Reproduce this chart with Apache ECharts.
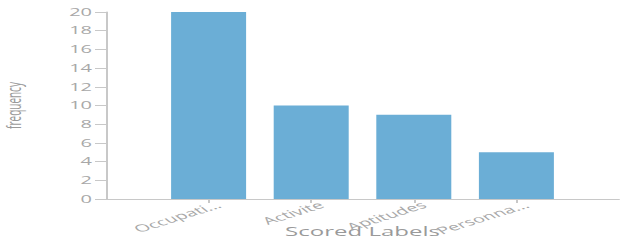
<!DOCTYPE html>
<html>
<head>
<meta charset="utf-8">
<script src="https://cdn.jsdelivr.net/npm/echarts@6/dist/echarts.min.js"></script>
<style>
  html, body { margin: 0; padding: 0; background: #fff; overflow: hidden; }
  /* the source picture is stretched sideways, so draw at half width and stretch x2 */
  #chart { width: 310px; height: 246px; transform: scaleX(2); transform-origin: 0 0; }
</style>
</head>
<body>
<div id="chart"></div>
<script>
// data
var categories = ['Occupati...', 'Activite', 'Aptitudes', 'Personna...'];
var frequency = [20, 10, 9, 5];
var yTicks = [0, 2, 4, 6, 8, 10, 12, 14, 16, 18, 20];

// axis has empty slots at both ends, so pad the category list
var axisCats = [''].concat(categories, ['']);
var axisVals = ['-'].concat(frequency, ['-']);

var gray = '#c8c8c8';
var textGray = '#a8a8a8';

var myChart = echarts.init(document.getElementById('chart'), null, { renderer: 'svg' });
myChart.setOption({
    animation: false,
    grid: {
        left: 53, right: 0.5, top: 12, bottom: 47,
        containLabel: false,
        outerBoundsMode: 'none'
    },
    xAxis: {
        type: 'category',
        data: axisCats,
        boundaryGap: false,
        name: 'Scored Labels',
        nameLocation: 'middle',
        nameGap: 27,
        nameMoveOverlap: false,
        nameTextStyle: { color: '#9a9a9a', fontSize: 12, fontFamily: 'Open Sans' },
        axisLine: { lineStyle: { color: gray } },
        axisTick: {
            length: 4,
            lineStyle: { color: gray },
            interval: function (i) { return i > 0 && i < axisCats.length - 1; }
        },
        axisLabel: {
            interval: 0,
            rotate: 32,
            margin: 8,
            padding: [0, -6, 0, 0],
            color: textGray,
            fontSize: 10,
            fontFamily: 'Open Sans'
        },
        splitLine: { show: false }
    },
    yAxis: {
        type: 'value',
        min: yTicks[0],
        max: yTicks[yTicks.length - 1],
        interval: 2,
        name: 'frequency',
        nameLocation: 'middle',
        nameGap: 41.5,
        nameRotate: 90,
        nameTextStyle: { color: '#9a9a9a', fontSize: 10, fontFamily: 'Open Sans' },
        axisLine: { show: true, lineStyle: { color: gray } },
        axisTick: { show: true, length: 5.5, lineStyle: { color: gray } },
        axisLabel: { color: textGray, fontSize: 10, fontFamily: 'Open Sans', margin: 7 },
        splitLine: { show: false }
    },
    series: [{
        type: 'bar',
        data: axisVals,
        barWidth: 37.5,
        itemStyle: { color: '#6baed6' }
    }]
});
</script>
</body>
</html>
